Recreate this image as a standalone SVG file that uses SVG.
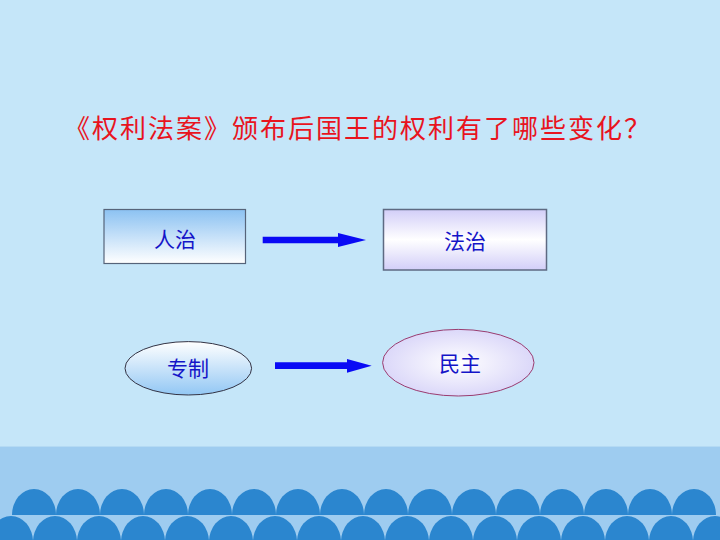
<svg xmlns="http://www.w3.org/2000/svg" xmlns:xlink="http://www.w3.org/1999/xlink" width="720" height="540" viewBox="0 0 720 540">
<style>
.title{font-family:"Noto Sans CJK SC","Noto Sans CJK JP",sans-serif;font-size:26px;fill:#E8141E;letter-spacing:2px}
.lbl{font-family:"Noto Sans CJK SC","Noto Sans CJK JP",sans-serif;font-size:21px;fill:#1414C8;text-anchor:middle}
.arrow{fill:#0A0AF5}
.dome{fill:#2B86CF}
</style>
<defs>
<linearGradient id="gBlueTop" x1="0" y1="0" x2="0" y2="1">
<stop offset="0" stop-color="#8CC2F2"/><stop offset="1" stop-color="#FFFFFF"/>
</linearGradient>
<linearGradient id="gLav" x1="0" y1="0" x2="0" y2="1">
<stop offset="0" stop-color="#D2CEF8"/><stop offset="0.5" stop-color="#FFFFFF"/><stop offset="1" stop-color="#D2CEF8"/>
</linearGradient>
<linearGradient id="gBlueBot" x1="0" y1="0" x2="0" y2="1">
<stop offset="0" stop-color="#FFFFFF"/><stop offset="1" stop-color="#92C7F4"/>
</linearGradient>
<radialGradient id="gLavE" cx="0.5" cy="0.5" r="0.6">
<stop offset="0" stop-color="#FFFFFF"/><stop offset="1" stop-color="#D4D0F8"/>
</radialGradient>
<path id="dome" d="M-22,26 A22 26 0 0 1 22,26 Z"/>
</defs>
<rect width="720" height="540" fill="#C5E6F9"/>
<rect y="446" width="720" height="94" fill="#9ECCF0"/>
<rect y="446" width="720" height="1" fill="#B4DAF4"/>
<g id="domes" class="dome">
<use xlink:href="#dome" x="11" y="516"/><use xlink:href="#dome" x="55" y="516"/><use xlink:href="#dome" x="99" y="516"/><use xlink:href="#dome" x="143" y="516"/><use xlink:href="#dome" x="187" y="516"/><use xlink:href="#dome" x="231" y="516"/><use xlink:href="#dome" x="275" y="516"/><use xlink:href="#dome" x="319" y="516"/><use xlink:href="#dome" x="363" y="516"/><use xlink:href="#dome" x="407" y="516"/><use xlink:href="#dome" x="451" y="516"/><use xlink:href="#dome" x="495" y="516"/><use xlink:href="#dome" x="539" y="516"/><use xlink:href="#dome" x="583" y="516"/><use xlink:href="#dome" x="627" y="516"/><use xlink:href="#dome" x="671" y="516"/><use xlink:href="#dome" x="715" y="516"/>
<use xlink:href="#dome" x="34" y="489"/><use xlink:href="#dome" x="78" y="489"/><use xlink:href="#dome" x="122" y="489"/><use xlink:href="#dome" x="166" y="489"/><use xlink:href="#dome" x="210" y="489"/><use xlink:href="#dome" x="254" y="489"/><use xlink:href="#dome" x="298" y="489"/><use xlink:href="#dome" x="342" y="489"/><use xlink:href="#dome" x="386" y="489"/><use xlink:href="#dome" x="430" y="489"/><use xlink:href="#dome" x="474" y="489"/><use xlink:href="#dome" x="518" y="489"/><use xlink:href="#dome" x="562" y="489"/><use xlink:href="#dome" x="606" y="489"/><use xlink:href="#dome" x="650" y="489"/><use xlink:href="#dome" x="694" y="489"/>
</g>
<text class="title" x="64" y="138">《权利法案》颁布后国王的权利有了哪些变化？</text>
<g id="node-renzhi">
<rect x="104" y="209.5" width="141.5" height="54" fill="url(#gBlueTop)" stroke="#56647A" stroke-width="1.2"/>
<text class="lbl" x="175" y="247">人治</text>
</g>
<g id="node-fazhi">
<rect x="383.5" y="209.5" width="163" height="60.5" fill="url(#gLav)" stroke="#5E6A82" stroke-width="1.5"/>
<text class="lbl" x="465" y="249">法治</text>
</g>
<g id="node-zhuanzhi">
<ellipse cx="188.3" cy="368.3" rx="63.3" ry="26.7" fill="url(#gBlueBot)" stroke="#333344" stroke-width="1"/>
<text class="lbl" x="188" y="376">专制</text>
</g>
<g id="node-minzhu">
<ellipse cx="458.3" cy="362.7" rx="75.7" ry="33.3" fill="url(#gLavE)" stroke="#9A3C70" stroke-width="1"/>
<text class="lbl" x="460" y="371">民主</text>
</g>
<g id="connectors" class="arrow">
<path d="M262.7,236.7 H338 V233 L366,240 L338,247 V243.3 H262.7 Z"/>
<path d="M275,362.3 H347 V359 L371.7,365.7 L347,372.7 V369 H275 Z"/>
</g>
</svg>
